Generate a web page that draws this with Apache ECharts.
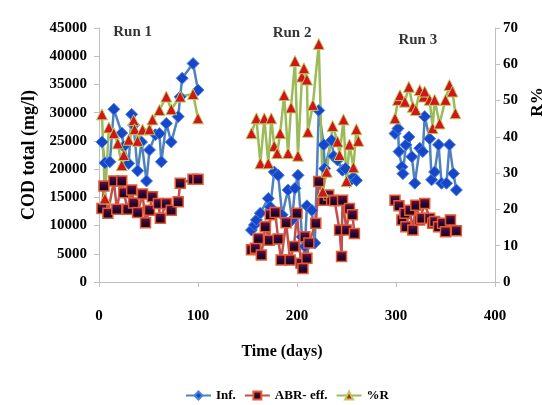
<!DOCTYPE html>
<html>
<head>
<meta charset="utf-8">
<script src="https://cdn.jsdelivr.net/npm/echarts@6/dist/echarts.min.js"></script>
<style>
html,body{margin:0;padding:0;background:#fff;}
#chart{width:542px;height:405px;}
</style>
</head>
<body>
<div id="chart"></div>
<script>
// ---- Data ----
const xTicks = [0, 100, 200, 300, 400];
const leftTicks = [0, 5000, 10000, 15000, 20000, 25000, 30000, 35000, 40000, 45000];
const rightTicks = [0, 10, 20, 30, 40, 50, 60, 70];

// Run 1
const run1InfDays = [3, 6, 11, 15, 23, 25, 30, 33, 35, 39, 43, 48, 51, 57, 61, 63, 68, 73, 80, 82, 84, 95, 100];
const run1Inf = [24800, 21100, 21300, 30600, 26400, 24000, 21000, 29700, 27800, 19700, 24800, 17900, 23400, 26100, 26300, 21300, 28100, 24800, 29300, 32800, 36100, 38700, 34000];
const run1EffDays = [3, 5, 9, 15, 18, 23, 25, 29, 33, 35, 39, 44, 47, 51, 54, 60, 62, 68, 73, 80, 82, 95, 100];
const run1Eff = [13000, 17000, 12200, 17900, 12900, 17900, 15800, 12900, 16300, 14000, 12300, 15600, 10500, 12700, 15100, 13900, 11300, 13900, 12700, 14200, 17500, 18200, 18200];
const run1RDays = [3, 6, 10, 15, 19, 23, 25, 30, 35, 36, 39, 44, 51, 54, 61, 68, 73, 82, 95, 100];
const run1R = [46.2, 23, 42.6, 41, 38.2, 32.2, 35, 39.2, 44.6, 42.1, 38.9, 42, 42.1, 44.8, 47.4, 51.1, 47.6, 51.1, 51.8, 45.1];

// Run 2
const run2InfDays = [154, 157, 159, 163, 171, 173, 177, 181, 185, 191, 195, 198, 201, 205, 208, 210, 215, 218, 222, 227, 228, 235, 237, 241, 246, 249, 253, 257, 260];
const run2Inf = [9200, 10100, 11000, 12200, 14800, 13300, 19500, 18900, 11900, 16300, 11000, 16600, 18900, 8000, 6300, 13500, 12700, 6900, 30400, 24300, 20100, 25100, 22300, 21600, 19800, 20100, 17800, 18600, 18000];
const run2EffDays = [154, 158, 161, 164, 168, 172, 173, 178, 181, 184, 189, 193, 197, 200, 204, 206, 208, 210, 212, 219, 222, 227, 232, 235, 238, 243, 245, 246, 250, 253, 256, 258];
const run2Eff = [5700, 6000, 7700, 4800, 9800, 7400, 11900, 12300, 7600, 3900, 10500, 3900, 6300, 12200, 3300, 2400, 8000, 4200, 6900, 10400, 17800, 14500, 15400, 14500, 14400, 9200, 4500, 14500, 9200, 13000, 11900, 8600];
const run2RDays = [154, 159, 163, 167, 171, 174, 177, 180, 183, 187, 191, 194, 198, 201, 205, 207, 210, 211, 216, 222, 226, 230, 236, 241, 243, 247, 250, 253, 257, 260, 262];
const run2R = [41, 45.1, 32.7, 45.1, 32.7, 45.1, 37.5, 35.5, 41, 51.5, 35.5, 48.1, 60.9, 34.8, 56.6, 58.9, 55.8, 41.4, 48.8, 65.6, 24.9, 30.4, 43, 38.7, 35, 44.8, 27.8, 37.9, 31.6, 42.1, 38.9];

// Run 3
const run3InfDays = [299, 302, 303, 306, 307, 310, 313, 316, 319, 324, 327, 329, 334, 336, 339, 343, 346, 351, 354, 358, 361];
const run3Inf = [26300, 27200, 23100, 20400, 19200, 24300, 25700, 22200, 17500, 23700, 23100, 29300, 25400, 18100, 19500, 24300, 17500, 17500, 24300, 19200, 16300];
const run3EffDays = [299, 303, 306, 309, 310, 314, 317, 320, 324, 326, 329, 334, 337, 339, 343, 347, 350, 355, 361];
const run3Eff = [14500, 13500, 11000, 12200, 9800, 12700, 9200, 13600, 11000, 11300, 13900, 11300, 10400, 10700, 9800, 10400, 8900, 11000, 9100];
const run3RDays = [299, 302, 304, 309, 313, 317, 320, 324, 328, 329, 334, 337, 339, 344, 350, 354, 357, 360];
const run3R = [45.1, 50.2, 51.5, 49.7, 53.8, 48.3, 47.4, 52.9, 51.1, 52.5, 50.2, 42.4, 50.2, 43.7, 50.2, 54.3, 52.5, 46.5];

// Run annotations (day, COD value position)
const runLabels = ['Run 1', 'Run 2', 'Run 3'];
const runLabelDays = [34, 195, 322];
const runLabelCOD = [44300, 44100, 42800];

const seriesNames = ['Inf.', 'ABR- eff.', '%R'];

// ---- Chart ----
const FONT = 'Liberation Serif';
const chart = echarts.init(document.getElementById('chart'), null, {renderer: 'canvas'});

const zip = (d, v) => d.map((x, i) => [x, v[i]]);

const styles = {
  'Inf.': {
    symbol: 'diamond', symbolSize: 12,
    lineStyle: {color: '#4f81bd', width: 2.5},
    itemStyle: {color: '#1846c8', borderColor: '#4a86e0', borderWidth: 1}
  },
  'ABR- eff.': {
    symbol: 'rect', symbolSize: 10,
    lineStyle: {color: '#c0504d', width: 2.5},
    itemStyle: {
      color: new echarts.graphic.LinearGradient(0, 0, 0, 1, [
        {offset: 0, color: '#7a1845'}, {offset: 0.5, color: '#2a0630'}, {offset: 1, color: '#14001c'}
      ]),
      borderColor: '#ea5a30', borderWidth: 1.5
    }
  },
  '%R': {
    symbol: 'triangle', symbolSize: 11,
    lineStyle: {color: '#9bbb59', width: 2.5},
    itemStyle: {color: '#d3141c', borderColor: '#b5cf5a', borderWidth: 1}
  }
};

function mk(name, days, vals, yIdx) {
  const s = styles[name];
  return Object.assign({
    name: name, type: 'line', yAxisIndex: yIdx,
    data: zip(days, vals), showAllSymbol: true, animation: false
  }, s);
}

const series = [
  mk('Inf.', run1InfDays, run1Inf, 0),
  mk('Inf.', run2InfDays, run2Inf, 0),
  mk('Inf.', run3InfDays, run3Inf, 0),
  mk('ABR- eff.', run1EffDays, run1Eff, 0),
  mk('ABR- eff.', run2EffDays, run2Eff, 0),
  mk('ABR- eff.', run3EffDays, run3Eff, 0),
  mk('%R', run1RDays, run1R, 1),
  mk('%R', run2RDays, run2R, 1),
  mk('%R', run3RDays, run3R, 1),
  {
    name: 'runs', type: 'scatter', yAxisIndex: 0, symbolSize: 0, silent: true,
    data: runLabels.map((t, i) => [runLabelDays[i], runLabelCOD[i], t]),
    label: {
      show: true, position: 'inside', formatter: p => p.value[2],
      fontFamily: FONT, fontWeight: 'bold', fontSize: 15, color: '#000'
    },
    animation: false
  }
];

const labelStyle = {fontFamily: FONT, fontWeight: 'bold', fontSize: 15, color: '#000'};
const axisLine = {show: true, lineStyle: {color: '#bfbfbf', width: 1}};
const axisTick = {show: true, length: 5, lineStyle: {color: '#bfbfbf'}};
const plain = v => String(v);

chart.setOption({
  backgroundColor: '#ffffff',
  animation: false,
  grid: {left: 99, right: 47, top: 28, bottom: 123, containLabel: false, outerBoundsMode: 'none'},
  legend: {
    data: seriesNames, left: 180, top: 384,
    itemWidth: 25, itemHeight: 10, itemGap: 8,
    textStyle: {fontFamily: FONT, fontWeight: 'bold', fontSize: 13, color: '#000'}
  },
  xAxis: {
    type: 'value', min: xTicks[0], max: xTicks[xTicks.length - 1], interval: 100,
    splitLine: {show: false}, axisLine: axisLine, axisTick: axisTick,
    axisLabel: Object.assign({margin: 27, formatter: plain}, labelStyle),
    name: 'Time (days)', nameLocation: 'middle', nameGap: 62,
    nameTextStyle: {fontFamily: FONT, fontWeight: 'bold', fontSize: 16, color: '#000', padding: [0, 30, 0, 0]}
  },
  yAxis: [
    {
      type: 'value', min: leftTicks[0], max: leftTicks[leftTicks.length - 1], interval: 5000,
      splitLine: {show: false}, axisLine: axisLine, axisTick: axisTick,
      axisLabel: Object.assign({margin: 12, formatter: plain}, labelStyle),
      name: 'COD total (mg/l)', nameLocation: 'middle', nameGap: 56,
      nameTextStyle: {fontFamily: FONT, fontWeight: 'bold', fontSize: 18, color: '#000'}
    },
    {
      type: 'value', position: 'right', min: rightTicks[0], max: rightTicks[rightTicks.length - 1], interval: 10,
      splitLine: {show: false}, axisLine: axisLine, axisTick: axisTick,
      axisLabel: Object.assign({margin: 8, formatter: plain}, labelStyle),
      name: 'R%', nameLocation: 'middle', nameGap: 34, nameRotate: 90,
      nameTextStyle: {fontFamily: FONT, fontWeight: 'bold', fontSize: 17, color: '#000', padding: [0, 0, 0, 106]}
    }
  ],
  series: series
});
</script>
</body>
</html>
